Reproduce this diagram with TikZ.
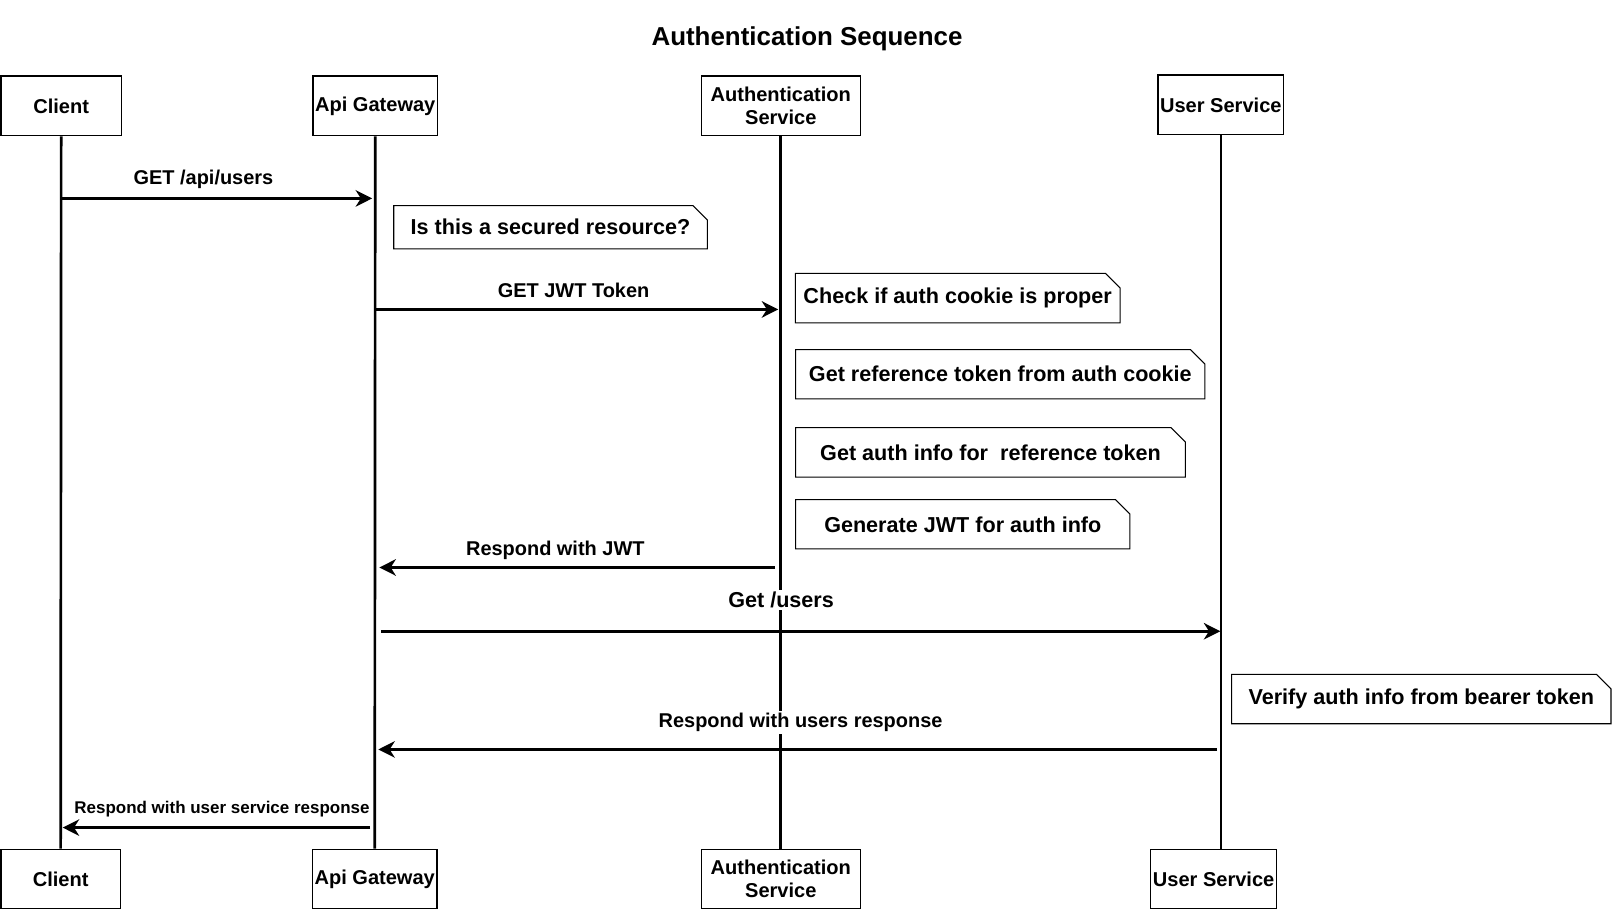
\documentclass[tikz,border=0pt]{standalone}
\usepackage{fontspec}
\setmainfont{Liberation Sans}
\usetikzlibrary{arrows.meta,shapes.misc}

\tikzstyle{actor} = [rectangle, draw=black, line width=0.6pt, fill=white, align=center, inner sep=1pt, font=\bfseries\fontsize{9.75}{11.5}\selectfont]
\tikzstyle{note} = [chamfered rectangle, chamfered rectangle corners=north east, chamfered rectangle sep=3.5pt, draw=black, line width=0.5pt, inner sep=0.5pt, font=\bfseries\fontsize{10.5}{12}\selectfont]
\tikzstyle{lifeline} = [line width=1.3pt]
\tikzstyle{msg} = [line width=1.3pt, -{Stealth[length=8pt,width=8pt,inset=2.5pt]}, shorten >=1.5pt]
\tikzstyle{lbl} = [fill=white, inner sep=1pt, font=\bfseries\fontsize{9.7}{11}\selectfont]

\begin{document}
\begin{tikzpicture}[x=0.5pt, y=-0.5pt]

  \useasboundingbox (0,0) rectangle (1568,886);

  \node (title) at (785,38) [font=\bfseries\fontsize{12.6}{14}\selectfont] {Authentication Sequence};

  \node (clientT) at (59.5,103) [actor, minimum width=58.5pt, minimum height=29pt] {Client};
  \node (apiT) at (365,103) [actor, minimum width=60pt, minimum height=29pt] {Api Gateway};
  \node (authT) at (759.5,103) [actor, minimum width=77.5pt, minimum height=29pt] {Authentication\\Service};
  \node (userT) at (1187.5,102) [actor, minimum width=60.5pt, minimum height=29pt] {User Service};

  \node (clientB) at (59,855) [actor, minimum width=58pt, minimum height=29pt] {Client};
  \node (apiB) at (364.5,855) [actor, minimum width=60.5pt, minimum height=29pt] {Api Gateway};
  \node (authB) at (759.5,855) [actor, minimum width=77.5pt, minimum height=29pt] {Authentication\\Service};
  \node (userB) at (1180.5,855) [actor, minimum width=60.5pt, minimum height=29pt] {User Service};

  % --- %

  \draw [lifeline] (clientT.south) -- (clientB.north);
  \draw [lifeline] (apiT.south) -- (apiB.north);
  \draw [lifeline] (authT.south) -- (authB.north);
  \draw [lifeline] (userT.south) -- (userT.south |- userB.north);

  % --- %

  \node (secured) at (535.5,221) [note, minimum width=152.5pt, minimum height=21pt] {Is this a secured resource?};
  \node (cookie) at (931.5,290) [note, minimum width=157.5pt, minimum height=24pt] {Check if auth cookie is proper};
  \node (reftoken) at (973,364) [note, minimum width=199pt, minimum height=24pt] {Get reference token from auth cookie};
  \node (authinfo) at (963.5,440) [note, minimum width=189.5pt, minimum height=24pt] {Get auth info for~~reference token};
  \node (genjwt) at (936.5,510) [note, minimum width=162.5pt, minimum height=24pt] {Generate JWT for auth info};
  \node (verify) at (1382.5,680) [note, minimum width=184.5pt, minimum height=24pt] {Verify auth info from bearer token};

  % --- %

  \coordinate (m1) at (0,193);
  \coordinate (m2) at (0,301);
  \coordinate (m3) at (0,552);
  \coordinate (m4) at (0,614);
  \coordinate (m5) at (0,729);
  \coordinate (m6) at (0,805);

  \draw [msg] (clientT.south |- m1) -- node[lbl, pos=0.453, yshift=9.5pt] {GET /api/users} (apiT.south |- m1);
  \draw [msg, shorten >=1.25pt] (apiT.south |- m2) -- node[lbl, pos=0.489, yshift=9.5pt] {GET JWT Token} (authT.south |- m2);
  \draw [msg, shorten <=2.75pt, shorten >=2pt] (authT.south |- m3) -- node[lbl, pos=0.556, yshift=8.5pt] {Respond with JWT} (apiT.south |- m3);
  \draw [msg, shorten <=3pt, shorten >=0.25pt] (apiT.south |- m4) -- node[lbl, pos=0.48, yshift=15pt, font=\bfseries\fontsize{10.5}{12}\selectfont] {Get /users} (userT.south |- m4);
  \draw [msg, shorten <=1.75pt] (userT.south |- m5) -- node[lbl, pos=0.497, yshift=13pt] {Respond with users response} (apiT.south |- m5);
  \draw [msg, shorten <=2.5pt, shorten >=0.75pt] (apiT.south |- m6) -- node[lbl, pos=0.488, yshift=9pt, font=\bfseries\fontsize{8.25}{10}\selectfont] {Respond with user service response} (clientT.south |- m6);

\end{tikzpicture}
\end{document}
